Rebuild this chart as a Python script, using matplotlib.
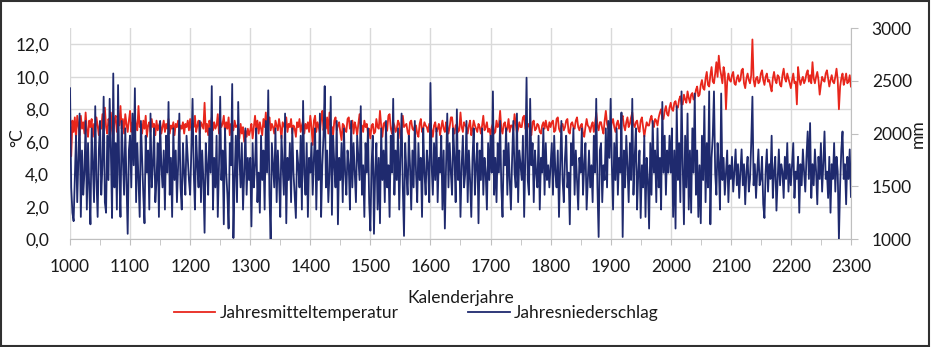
import numpy as np
import matplotlib
matplotlib.use("Agg")
import matplotlib.pyplot as plt
from matplotlib.patches import Rectangle
from matplotlib.ticker import FuncFormatter, MultipleLocator

plt.rcParams['font.family'] = ['Lato', 'DejaVu Sans']

# one value every 2 years, 1000 .. 2300 (50 values per century)
years = np.arange(1000, 2301, 2)

# annual mean temperature (°C)
temp_1000 = [7.7, 5.1, 7.3, 6.6, 7.5, 6.2, 7.6, 7.0, 6.4, 7.6,
             6.8, 7.2, 6.5, 7.8, 6.7, 6.3, 7.3, 6.9, 7.4, 6.3,
             7.1, 6.6, 7.5, 7.0, 6.4, 7.2, 6.8, 7.7, 6.6, 8.1,
             6.9, 6.5, 7.4, 7.0, 7.8, 6.7, 6.2, 7.3, 7.6, 6.6,
             7.2, 7.0, 8.2, 6.8, 7.4, 6.5, 7.7, 7.1, 6.6, 7.3]
temp_1100 = [7.9, 6.6, 7.2, 6.4, 7.5, 7.0, 6.7, 8.2, 6.9, 7.1,
             6.5, 7.3, 6.8, 7.6, 6.3, 7.0, 7.2, 6.6, 7.4, 6.9,
             7.1, 6.4, 7.3, 6.7, 7.0, 7.2, 6.5, 6.9, 7.3, 6.6,
             7.1, 6.8, 7.4, 6.5, 7.0, 6.8, 7.2, 6.4, 7.1, 6.9,
             7.3, 6.6, 7.0, 6.8, 7.2, 6.5, 7.1, 6.9, 7.3, 6.7]
temp_1200 = [7.4, 6.7, 7.1, 6.9, 7.6, 6.6, 7.0, 7.3, 6.5, 7.2,
             7.0, 6.8, 8.4, 6.6, 7.1, 6.4, 7.3, 6.9, 7.5, 6.7,
             7.2, 6.8, 7.0, 7.7, 6.5, 7.3, 6.9, 7.1, 7.6, 6.6,
             7.2, 6.8, 7.5, 6.4, 7.1, 7.0, 6.7, 7.3, 6.9, 7.0,
             6.8, 6.2, 7.1, 6.5, 6.9, 6.0, 6.7, 6.3, 6.8, 6.4]
temp_1300 = [6.7, 7.1, 6.2, 6.9, 7.6, 6.8, 7.3, 6.5, 7.2, 6.8,
             6.4, 7.4, 6.9, 7.8, 6.6, 7.2, 7.5, 6.7, 7.1, 6.9,
             6.5, 7.3, 7.0, 6.7, 7.4, 6.9, 6.2, 7.2, 7.0, 6.8,
             7.5, 6.6, 7.1, 6.9, 7.4, 6.5, 7.0, 6.8, 6.3, 7.2,
             6.9, 7.4, 6.6, 7.0, 7.3, 6.5, 7.1, 6.8, 7.2, 6.6]
temp_1400 = [7.6, 6.9, 5.8, 7.3, 7.6, 6.6, 7.2, 6.9, 6.5, 7.4,
             7.9, 6.7, 7.2, 6.8, 7.5, 6.5, 7.8, 7.0, 6.9, 6.4,
             7.3, 7.5, 6.7, 7.0, 7.2, 6.6, 6.1, 7.1, 7.0, 6.7,
             6.6, 7.4, 7.5, 6.8, 7.0, 7.3, 6.5, 7.2, 6.9, 6.4,
             7.1, 7.7, 6.8, 7.0, 6.6, 7.3, 6.9, 7.1, 6.5, 6.8]
temp_1500 = [6.2, 7.0, 7.1, 6.5, 6.6, 7.4, 6.9, 6.8, 7.9, 7.0,
             6.3, 7.1, 7.2, 6.6, 6.7, 7.6, 7.7, 6.8, 6.5, 7.2,
             7.0, 6.6, 6.8, 7.3, 7.1, 6.2, 6.7, 7.6, 6.9, 7.0,
             7.1, 6.6, 6.4, 7.2, 7.3, 6.8, 6.7, 7.0, 7.0, 6.5,
             6.3, 7.1, 7.4, 6.6, 6.8, 7.2, 7.0, 6.9, 6.6, 7.1]
temp_1600 = [7.1, 6.7, 6.3, 7.0, 7.2, 6.6, 6.8, 7.1, 6.4, 6.9,
             7.3, 6.8, 6.6, 7.2, 7.0, 6.5, 6.9, 7.5, 7.5, 6.7,
             6.5, 7.0, 7.1, 6.6, 6.7, 7.8, 6.9, 6.6, 7.2, 7.0,
             6.9, 6.5, 7.0, 7.3, 6.4, 6.8, 7.3, 7.0, 6.8, 6.6,
             7.1, 6.9, 6.5, 7.0, 7.6, 6.7, 6.9, 7.2, 6.6, 6.8]
temp_1700 = [6.4, 6.9, 7.1, 6.5, 6.6, 7.3, 6.9, 7.0, 7.9, 6.8,
             6.5, 7.1, 7.2, 6.6, 6.8, 7.4, 6.6, 7.0, 7.0, 6.7,
             7.7, 7.1, 6.5, 6.8, 7.2, 6.9, 6.9, 7.5, 7.6, 6.8,
             6.7, 7.0, 7.1, 6.6, 6.4, 7.2, 7.3, 6.7, 6.8, 7.1,
             7.0, 6.6, 6.5, 7.0, 7.2, 6.8, 7.3, 6.9, 6.7, 7.2]
temp_1800 = [6.9, 7.2, 7.3, 6.6, 6.7, 7.4, 7.5, 6.8, 6.6, 7.0,
             7.1, 6.7, 6.9, 7.3, 7.4, 6.6, 6.5, 7.1, 7.2, 6.9,
             6.8, 7.3, 7.5, 6.9, 6.7, 7.0, 7.1, 6.5, 6.3, 6.9,
             7.4, 7.0, 6.9, 6.6, 7.0, 7.2, 6.6, 7.1, 7.8, 7.0,
             6.7, 7.2, 7.2, 6.8, 6.5, 7.3, 7.9, 7.1, 6.8, 7.0]
temp_1900 = [6.8, 7.2, 7.4, 6.9, 6.6, 7.1, 7.3, 6.8, 7.0, 7.4,
             7.6, 7.0, 6.7, 7.2, 7.5, 6.9, 7.1, 7.5, 7.8, 7.1,
             6.9, 7.2, 7.3, 6.8, 6.6, 7.3, 7.5, 6.9, 6.3, 6.8,
             7.2, 7.0, 7.0, 7.4, 7.6, 7.1, 6.9, 7.4, 7.3, 7.0,
             7.5, 7.8, 8.0, 7.4, 7.4, 7.9, 8.2, 7.7, 7.6, 8.1]
temp_2000 = [8.4, 8.0, 7.9, 8.4, 8.5, 8.1, 8.1, 8.6, 8.8, 8.3,
             8.3, 8.9, 8.6, 8.4, 9.1, 8.7, 8.4, 8.9, 9.0, 8.6,
             8.7, 9.2, 9.4, 8.8, 8.9, 9.5, 9.8, 9.3, 9.2, 9.9,
             10.3, 9.5, 9.4, 10.1, 10.6, 9.7, 9.6, 10.2, 10.9, 10.0,
             11.3, 10.5, 10.1, 9.6, 10.6, 10.2, 8.0, 9.7, 10.2, 9.8]
temp_2100 = [9.7, 10.1, 10.3, 9.6, 9.5, 9.9, 10.1, 9.7, 9.8, 10.4,
             10.5, 9.6, 9.3, 9.9, 10.2, 9.8, 9.6, 10.1, 12.3, 9.8,
             9.4, 9.9, 10.0, 9.6, 9.7, 10.2, 10.4, 9.8, 9.5, 10.0,
             10.2, 9.7, 9.8, 9.4, 9.1, 9.9, 10.3, 9.8, 9.6, 10.1,
             10.0, 9.5, 9.4, 10.1, 10.5, 9.9, 9.7, 10.2, 9.9, 9.6]
temp_2200 = [9.3, 9.8, 10.2, 9.6, 9.7, 8.3, 10.6, 9.9, 9.5, 9.8,
             10.0, 9.6, 9.8, 10.2, 10.4, 9.7, 10.1, 9.6, 10.9, 9.9,
             9.6, 10.0, 10.3, 9.8, 8.9, 9.5, 10.0, 9.8, 9.7, 10.2,
             10.4, 9.9, 9.4, 9.8, 10.1, 9.7, 9.6, 10.0, 10.5, 9.8,
             8.0, 9.4, 9.9, 10.2, 9.5, 9.8, 10.2, 9.6, 9.7, 10.1]
temp_2300 = [9.4]

# annual precipitation (mm)
prec_1000 = [2430, 1490, 1250, 1170, 1560, 1980, 1350, 1770, 2190, 1210,
             1840, 1420, 1630, 2120, 1280, 1910, 1490, 1140, 2050, 1700,
             1350, 2260, 1560, 1210, 1840, 2120, 1420, 1700, 2350, 1350,
             1250, 1980, 1560, 2330, 1840, 1200, 2570, 1490, 1910, 1280,
             2460, 1630, 1210, 2120, 1770, 1420, 2050, 1560, 1050, 1840]
prec_1100 = [1980, 1490, 2190, 1700, 2430, 1350, 1910, 1560, 1210, 2120,
             1770, 1420, 1150, 1980, 1630, 1840, 1280, 2190, 1490, 1700,
             2050, 1350, 1560, 1910, 1210, 2120, 1700, 1490, 1840, 1280,
             1980, 1630, 2300, 1420, 1770, 1210, 2050, 1560, 1840, 1350,
             1700, 2190, 1490, 1280, 1910, 1630, 1420, 1980, 1770, 1560]
prec_1200 = [1420, 1840, 2330, 1630, 1280, 1980, 1700, 1490, 2120, 1350,
             1840, 1560, 1060, 1910, 1700, 1420, 2050, 1630, 2450, 1280,
             1770, 1490, 1980, 1210, 1700, 2350, 1560, 1840, 1140, 2050,
             1630, 1420, 1100, 1910, 1700, 2470, 1010, 1560, 1980, 1350,
             2300, 1770, 1490, 1910, 1280, 1630, 2050, 1420, 1770, 1560]
prec_1300 = [1770, 1120, 1910, 1490, 1700, 2050, 1350, 1630, 1250, 1980,
             1560, 1840, 1280, 2120, 1630, 2410, 1420, 1000, 1910, 1700,
             1490, 2050, 1350, 1840, 1560, 1210, 1980, 1700, 1420, 2190,
             1150, 1770, 1560, 1910, 1350, 2050, 1630, 1420, 1200, 1840,
             1700, 1490, 1980, 1280, 2310, 1630, 1420, 1910, 1210, 1770]
prec_1400 = [1630, 1910, 1420, 1770, 2050, 1280, 1840, 1560, 2190, 1210,
             1700, 1980, 2450, 1490, 1840, 1350, 1630, 2350, 1230, 1980,
             1700, 1490, 2120, 1140, 1770, 1560, 1910, 1350, 2050, 1630,
             1420, 1840, 1700, 1280, 2120, 1490, 1910, 1630, 1350, 1980,
             1770, 1560, 2260, 1420, 1700, 1210, 1910, 1630, 2050, 1350]
prec_1500 = [1080, 1700, 1980, 1050, 1630, 1910, 1280, 1770, 1150, 2050,
             1560, 1840, 1350, 2120, 1490, 1700, 1210, 1980, 1630, 2330,
             1420, 1840, 1560, 2050, 1280, 1770, 2190, 1490, 1030, 1910,
             1630, 1420, 1980, 1700, 1280, 1840, 1490, 2120, 1630, 1350,
             1910, 1560, 1770, 1210, 2050, 1630, 1420, 1840, 1700, 1350]
prec_1600 = [2480, 1700, 1420, 1910, 1560, 2050, 1350, 1770, 1630, 1980,
             1280, 1840, 1100, 1700, 2190, 1490, 1910, 1630, 1420, 2050,
             1770, 1350, 2230, 1560, 1840, 1210, 1700, 1980, 1490, 1630,
             2120, 1350, 1840, 1560, 1210, 1770, 2050, 1420, 1700, 1910,
             1150, 1840, 1560, 2050, 1420, 1770, 1630, 1280, 1910, 1560]
prec_1700 = [1980, 1630, 2400, 1420, 1770, 1350, 1910, 1630, 2120, 1490,
             1210, 1840, 1700, 2050, 1420, 1910, 1560, 1280, 1770, 2120,
             1630, 1490, 2190, 1350, 1840, 1700, 1560, 1980, 1210, 1770,
             2530, 1560, 1420, 2330, 1700, 1910, 1350, 1840, 1630, 1490,
             1980, 1280, 1770, 1630, 2050, 1420, 1910, 1560, 1700, 1490]
prec_1800 = [1700, 1910, 1420, 1980, 1630, 1490, 1840, 1210, 1700, 2120,
             1560, 1350, 1770, 1980, 1490, 1630, 1140, 1910, 1700, 2050,
             1420, 1840, 1560, 1280, 1770, 1630, 2050, 1420, 1700, 1910,
             1280, 1560, 1840, 1490, 1700, 1350, 1980, 1630, 2330, 1490,
             1020, 1840, 1910, 1350, 1700, 1560, 2050, 1490, 2120, 1770]
prec_1900 = [2330, 1700, 1280, 1910, 1560, 2050, 1420, 1770, 1630, 2200,
             1020, 1840, 1490, 1980, 1700, 1350, 1910, 1560, 2330, 1420,
             1770, 2050, 1280, 1630, 1840, 1200, 1700, 1490, 1980, 1210,
             1770, 1560, 1100, 1910, 1420, 2120, 1630, 1840, 1350, 2050,
             1490, 1770, 1280, 2300, 1630, 1980, 1420, 1840, 1630, 1980]
prec_2000 = [1630, 2050, 1210, 1840, 1100, 2260, 1560, 1910, 1350, 2400,
             1700, 1140, 1980, 1490, 2190, 1280, 1840, 1250, 2050, 1630,
             2380, 1420, 1840, 1210, 1700, 1150, 1980, 1560, 2260, 1350,
             1910, 1490, 2400, 1140, 1770, 1980, 2400, 1630, 1420, 1910,
             1700, 1280, 2380, 1560, 1770, 1420, 1630, 1840, 1350, 1700]
prec_2100 = [1570, 1780, 1450, 1640, 1850, 1510, 1710, 1390, 1640, 1850,
             1510, 1710, 1330, 1640, 1780, 1450, 1570, 1910, 2350, 1510,
             1710, 1390, 1640, 1850, 1510, 1570, 1780, 1330, 1200, 1640,
             1850, 1450, 1710, 1570, 1980, 1390, 1640, 1780, 1270, 1570,
             1850, 1510, 1710, 1640, 1390, 1780, 1570, 1910, 1450, 1710]
prec_2200 = [1510, 1710, 1910, 1390, 1640, 1570, 1780, 1250, 1710, 1510,
             1850, 1640, 1450, 1780, 2020, 1570, 2100, 1390, 1710, 1510,
             1850, 1640, 1330, 1780, 1570, 1910, 1450, 1710, 2020, 1570,
             1640, 1390, 1780, 1250, 1710, 1570, 1910, 1450, 1780, 1640,
             1000, 1510, 1850, 2020, 1570, 1710, 1330, 1780, 1570, 1850]
prec_2300 = [1400]

temperature = (temp_1000 + temp_1100 + temp_1200 + temp_1300 + temp_1400 + temp_1500 + temp_1600
               + temp_1700 + temp_1800 + temp_1900 + temp_2000 + temp_2100 + temp_2200 + temp_2300)
precipitation = (prec_1000 + prec_1100 + prec_1200 + prec_1300 + prec_1400 + prec_1500 + prec_1600
                 + prec_1700 + prec_1800 + prec_1900 + prec_2000 + prec_2100 + prec_2200 + prec_2300)

red = '#e8261c'
navy = '#1f2a6e'
grid_col = '#d9d9d9'
text_col = '#1a1a1a'
fs = 12.5

fig = plt.figure(figsize=(9.31, 3.47), dpi=100)
ax = fig.add_axes([0.0752, 0.311, 0.8388, 0.608])
ax2 = ax.twinx()

ax.plot(years, temperature, color=red, lw=1.3, label='Jahresmitteltemperatur')
ax2.plot(years, precipitation, color=navy, lw=1.3, label='Jahresniederschlag')

ax.set_xlim(1000, 2300)
ax.set_ylim(0, 13)
ax2.set_ylim(1000, 3000)

ax.set_yticks(np.arange(0, 13, 2))
ax.yaxis.set_major_formatter(FuncFormatter(lambda v, p: f'{v:.1f}'.replace('.', ',')))
ax2.set_yticks(np.arange(1000, 3001, 500))
ax.xaxis.set_major_locator(MultipleLocator(100))
ax.xaxis.set_minor_locator(MultipleLocator(50))

ax.grid(True, which='major', color=grid_col, lw=1.0)
ax.set_axisbelow(True)

for a in (ax, ax2):
    for s in ('top', 'left'):
        a.spines[s].set_visible(False)
ax.spines['right'].set_visible(False)
ax2.spines['bottom'].set_visible(False)
ax.spines['bottom'].set_color('#bfbfbf')
ax2.spines['right'].set_color('#bfbfbf')

ax.tick_params(axis='y', length=0, pad=15, labelsize=fs, labelcolor=text_col)
ax.tick_params(axis='x', which='both', length=4, color='#bfbfbf', pad=10, labelsize=fs, labelcolor=text_col)
ax2.tick_params(axis='y', length=5, color='#bfbfbf', pad=10, labelsize=fs, labelcolor=text_col)

ax.set_xlabel('Kalenderjahre', fontsize=fs, color=text_col, labelpad=11)
fig.text(0.019, 0.605, '°C', rotation=90, fontsize=fs, color=text_col, ha='center', va='center')
fig.text(0.986, 0.614, 'mm', rotation=90, fontsize=fs, color=text_col, ha='center', va='center')

h1, l1 = ax.get_legend_handles_labels()
h2, l2 = ax2.get_legend_handles_labels()
fig.legend(h1 + h2, l1 + l2, loc='center', bbox_to_anchor=(0.447, 0.098), ncol=2, frameon=False,
           fontsize=fs, handlelength=2.4, handletextpad=0.25, columnspacing=4.0, labelcolor=text_col)

fig.patches.append(Rectangle((0.001, 0.003), 0.997, 0.994, transform=fig.transFigure,
                             fill=False, edgecolor='#303030', lw=1.5))

fig.savefig('out.png', dpi=100)
